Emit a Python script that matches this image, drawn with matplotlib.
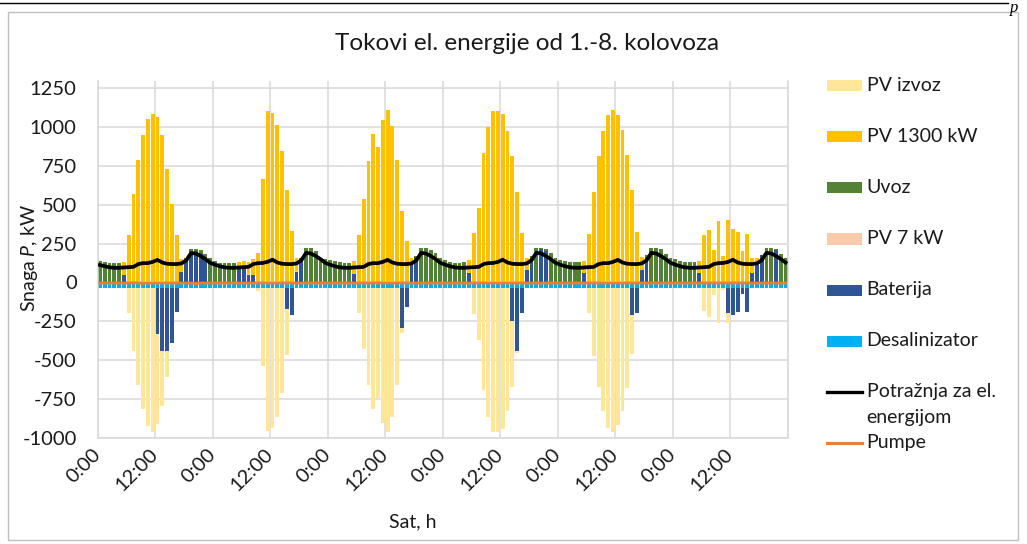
import numpy as np
import matplotlib
matplotlib.use("Agg")
import matplotlib.pyplot as plt
from matplotlib.patches import Rectangle
from matplotlib.lines import Line2D

plt.rcParams["font.family"] = ["Lato", "DejaVu Sans"]
plt.rcParams["mathtext.fontset"] = "custom"
plt.rcParams["mathtext.rm"] = "Lato"
plt.rcParams["mathtext.it"] = "Lato:italic"

# ---- hourly power flows, 1.-6. day of the period (kW) ----
pv1300_kw = [
    0, 0, 0, 0, 0, 83, 303, 564, 786, 945, 1047, 1079, 1058, 945, 727, 502, 303, 86, 0, 0, 0, 0, 0, 0,
    0, 0, 0, 0, 0, 42, 50, 78, 105, 185, 662, 1095, 1085, 1007, 838, 590, 326, 86, 0, 0, 0, 0, 0, 0,
    0, 0, 0, 0, 0, 86, 303, 534, 780, 951, 870, 1041, 1100, 1000, 784, 455, 267, 39, 0, 0, 0, 0, 0, 0,
    0, 0, 0, 0, 0, 85, 314, 474, 827, 994, 1096, 1096, 1079, 966, 806, 581, 314, 75, 0, 0, 0, 0, 0, 0,
    0, 0, 0, 0, 0, 79, 310, 577, 808, 968, 1073, 1100, 1068, 977, 818, 592, 320, 79, 0, 0, 0, 0, 0, 0,
    0, 0, 0, 0, 0, 79, 303, 338, 207, 395, 171, 402, 340, 320, 203, 310, 96, 50, 0, 0, 0, 0, 0, 0,
]

uvoz_kw = [
    139, 132, 124, 124, 124, 0, 0, 0, 0, 0, 0, 0, 0, 0, 0, 0, 0, 0, 5, 12, 12, 16, 20, 160,
    139, 128, 124, 124, 124, 0, 0, 0, 0, 0, 0, 0, 0, 0, 0, 0, 0, 0, 10, 220, 220, 199, 160, 150,
    143, 135, 130, 126, 126, 0, 0, 0, 0, 0, 0, 0, 0, 0, 0, 0, 0, 0, 6, 220, 224, 207, 188, 160,
    143, 132, 128, 124, 132, 0, 0, 0, 0, 0, 0, 0, 0, 0, 0, 0, 0, 0, 11, 224, 10, 13, 188, 160,
    143, 137, 130, 130, 130, 0, 0, 0, 0, 0, 0, 0, 0, 0, 0, 0, 0, 0, 10, 224, 220, 214, 186, 160,
    150, 137, 130, 130, 130, 0, 0, 0, 0, 0, 0, 0, 0, 0, 0, 0, 0, 0, 0, 224, 224, 4, 185, 160,
]

pv7_kw = [
    0, 0, 0, 0, 0, 0, 1, 2, 4, 5, 6, 7, 7, 6, 5, 3, 2, 1, 0, 0, 0, 0, 0, 0,
    0, 0, 0, 0, 0, 0, 1, 1, 2, 3, 5, 7, 7, 6, 5, 3, 2, 1, 0, 0, 0, 0, 0, 0,
    0, 0, 0, 0, 0, 0, 1, 2, 4, 5, 5, 6, 7, 6, 5, 3, 2, 0, 0, 0, 0, 0, 0, 0,
    0, 0, 0, 0, 0, 0, 1, 2, 4, 6, 7, 7, 7, 6, 5, 3, 2, 1, 0, 0, 0, 0, 0, 0,
    0, 0, 0, 0, 0, 0, 1, 2, 4, 6, 7, 7, 7, 6, 5, 3, 2, 1, 0, 0, 0, 0, 0, 0,
    0, 0, 0, 0, 0, 0, 1, 2, 1, 2, 1, 2, 2, 2, 1, 2, 1, 0, 0, 0, 0, 0, 0, 0,
]

# battery: positive = discharge, negative = charging
baterija_kw = [
    0, 0, 0, 0, 0, 49, 0, 0, 0, 0, 0, 0, -300, -405, -405, -355, -158, 64, 150, 200, 205, 190, 165, 0,
    0, 0, 0, 0, 0, 90, 85, 50, 45, 0, 0, 0, 0, 0, 0, -137, -175, 70, 150, 0, 0, 0, 0, 0,
    0, 0, 0, 0, 0, 53, 0, 0, 0, 0, 0, 0, 0, 0, 0, -260, -122, 117, 165, 0, 0, 0, 0, 0,
    0, 0, 0, 0, 0, 58, 0, 0, 0, 0, 0, 0, 0, 0, -213, -406, -164, 81, 160, 0, 214, 200, 0, 0,
    0, 0, 0, 0, 0, 60, 0, 0, 0, 0, 0, 0, 0, 0, 0, -175, -164, 81, 165, 0, 0, 0, 0, 0,
    0, 0, 0, 0, 0, 60, 0, 0, 0, 0, 0, -160, -175, -158, -42, -158, 60, 110, 175, 0, 0, 210, 0, 0,
]

desalinizator_kw = [
    -35, -35, -35, -35, -35, -35, -35, -35, -35, -35, -35, -35, -35, -35, -35, -35, -35, -35, -35, -35, -35, -35, -35, -35,
    -35, -35, -35, -35, -35, -35, -35, -35, -35, -35, -35, -35, -35, -35, -35, -35, -35, -35, -35, -35, -35, -35, -35, -35,
    -35, -35, -35, -35, -35, -35, -35, -35, -35, -35, -35, -35, -35, -35, -35, -35, -35, -35, -35, -35, -35, -35, -35, -35,
    -35, -35, -35, -35, -35, -35, -35, -35, -35, -35, -35, -35, -35, -35, -35, -35, -35, -35, -35, -35, -35, -35, -35, -35,
    -35, -35, -35, -35, -35, -35, -35, -35, -35, -35, -35, -35, -35, -35, -35, -35, -35, -35, -35, -35, -35, -35, -35, -35,
    -35, -35, -35, -35, -35, -35, -35, -35, -35, -35, -35, -35, -35, -35, -35, -35, -35, -35, -35, -35, -35, -35, -35, -35,
]

pv_izvoz_kw = [
    0, 0, 0, 0, 0, 0, -161, -408, -626, -782, -888, -928, -576, -358, -167, 0, 0, 0, 0, 0, 0, 0, 0, 0,
    0, 0, 0, 0, 0, 0, 0, 0, 0, -23, -504, -925, -903, -833, -679, -296, 0, 0, 0, 0, 0, 0, 0, 0,
    0, 0, 0, 0, 0, 0, -160, -396, -626, -783, -712, -873, -926, -834, -626, -33, 0, 0, 0, 0, 0, 0, 0, 0,
    0, 0, 0, 0, 0, 0, -166, -333, -658, -834, -931, -931, -906, -796, -427, -12, 0, 0, 0, 0, 0, 0, 0, 0,
    0, 0, 0, 0, 0, 0, -160, -437, -640, -796, -903, -929, -882, -796, -647, -254, 0, 0, 0, 0, 0, 0, 0, 0,
    0, 0, 0, 0, 0, 0, -151, -187, -44, -224, -15, -66, 0, 0, 0, 0, 0, 0, 0, 0, 0, 0, 0, 0,
]

potraznja_kw = [
    112, 104, 97, 94, 94, 96, 98, 100, 118, 124, 124, 132, 145, 128, 120, 118, 118, 122, 142, 188, 186, 170, 150, 126,
    114, 104, 97, 94, 94, 96, 98, 100, 118, 124, 125, 133, 146, 128, 120, 118, 118, 122, 142, 190, 186, 170, 150, 126,
    114, 104, 97, 94, 94, 96, 98, 100, 118, 124, 124, 132, 145, 128, 120, 118, 118, 122, 142, 190, 186, 170, 150, 126,
    114, 104, 97, 94, 94, 96, 98, 100, 118, 124, 125, 132, 146, 128, 120, 118, 118, 122, 142, 190, 187, 170, 150, 126,
    114, 104, 97, 94, 94, 96, 98, 100, 118, 124, 124, 132, 145, 128, 120, 118, 118, 122, 142, 190, 186, 170, 150, 126,
    114, 104, 97, 94, 94, 96, 98, 100, 118, 124, 125, 132, 146, 128, 120, 118, 118, 122, 142, 190, 186, 170, 150, 128,
]

pumpe_kw = [
    -4, -4, -4, -4, -4, -4, -4, -4, -4, -7, -4, -4, -4, -4, -4, -4, -4, -4, -4, -4, -7, -4, -4, -4,
    -4, -4, -4, -4, -4, -4, -4, -4, -4, -4, -4, -4, -4, -4, -4, -4, -4, -4, -4, -4, -4, -4, -4, -4,
    -4, -4, -4, -4, -4, -4, -4, -4, -4, -4, -4, -4, -4, -4, -4, -4, -4, -4, -4, -4, -4, -4, -4, -4,
    -4, -4, -4, -4, -4, -4, -4, -4, -4, -4, -4, -4, -4, -4, -4, -4, -4, -4, -4, -4, -4, -4, -4, -4,
    -4, -4, -4, -4, -4, -4, -4, -4, -4, -4, -4, -4, -4, -4, -4, -4, -4, -4, -4, -4, -4, -4, -4, -4,
    -4, -4, -4, -4, -4, -4, -4, -4, -4, -4, -4, -4, -4, -4, -4, -4, -4, -4, -4, -4, -4, -4, -4, -4,
]

x_tick_hours = [0, 12, 24, 36, 48, 60, 72, 84, 96, 108, 120, 132, 144]
x_tick_labels = ["0:00", "12:00", "0:00", "12:00", "0:00", "12:00", "0:00", "12:00",
                 "0:00", "12:00", "0:00", "12:00", ""]
y_ticks = [-1000, -750, -500, -250, 0, 250, 500, 750, 1000, 1250]
y_tick_labels = ["-1000", "-750", "-500", "-250", "0", "250", "500", "750", "1000", "1250"]

colors = {
    "PV izvoz": "#FFE699",
    "PV 1300 kW": "#FFC000",
    "Uvoz": "#548235",
    "PV 7 kW": "#F8CBAD",
    "Baterija": "#2F5597",
    "Desalinizator": "#00B0F0",
    "demand": "#000000",
    "Pumpe": "#ED7D31",
}
TXT = "#1a1a1a"
GRID = "#D9D9D9"
FS = 14

W, H = 1027, 544
fig = plt.figure(figsize=(W / 100, H / 100), dpi=100)


def fx(px):
    return px / W


def fy(py):
    return 1 - py / H


ax = fig.add_axes([fx(97.5), fy(437.7), fx(788) - fx(97.5), fy(80.5) - fy(437.7)])

x = np.arange(len(pv1300_kw)) + 0.5
bw = 0.8

bat = np.array(baterija_kw, dtype=float)
bat_pos = np.clip(bat, 0, None)
bat_neg = np.clip(bat, None, 0)

# positive stack (from zero upwards)
base = np.zeros_like(x)
for vals, key in [(bat_pos, "Baterija"), (np.array(pv7_kw, float), "PV 7 kW"),
                  (np.array(uvoz_kw, float), "Uvoz"), (np.array(pv1300_kw, float), "PV 1300 kW")]:
    ax.bar(x, vals, bottom=base, width=bw, color=colors[key], linewidth=0, zorder=2)
    base = base + vals

# negative stack (from zero downwards)
base = np.zeros_like(x)
for vals, key in [(np.array(desalinizator_kw, float), "Desalinizator"), (bat_neg, "Baterija"),
                  (np.array(pv_izvoz_kw, float), "PV izvoz")]:
    ax.bar(x, vals, bottom=base, width=bw, color=colors[key], linewidth=0, zorder=2)
    base = base + vals

ax.plot(x, potraznja_kw, color=colors["demand"], lw=2.7, solid_joinstyle="round", zorder=4)
ax.plot(x, pumpe_kw, color=colors["Pumpe"], lw=2.0, zorder=5)

ax.set_xlim(0, 144)
ax.set_ylim(-1000, 1300)
ax.set_yticks(y_ticks)
ax.set_yticklabels(y_tick_labels)
ax.set_xticks(x_tick_hours)
ax.set_xticklabels(x_tick_labels, rotation=45, ha="right", va="center", rotation_mode="anchor")
ax.tick_params(axis="both", length=0, labelsize=14.5, colors=TXT)
ax.tick_params(axis="y", pad=15)
ax.tick_params(axis="x", pad=10)
ax.grid(True, color=GRID, lw=1.1, zorder=0)
ax.set_axisbelow(True)
ax.spines["top"].set_visible(False)
for side in ["left", "right", "bottom"]:
    ax.spines[side].set_color(GRID)
    ax.spines[side].set_linewidth(1.1)

fig.text(fx(29), fy(258), r"Snaga $P$, kW", fontsize=FS, color=TXT, rotation=90,
         ha="center", va="center")
fig.text(fx(413), fy(522), "Sat, h", fontsize=FS, color=TXT, ha="center", va="center")
fig.text(fx(527), fy(43), "Tokovi el. energije od 1.-8. kolovoza", fontsize=17.5, color=TXT,
         ha="center", va="center")

# legend
leg_x0, leg_w, leg_h = 826.7, 35, 11
bar_rows = [("PV izvoz", 85.7), ("PV 1300 kW", 136.7), ("Uvoz", 187.7), ("PV 7 kW", 239),
            ("Baterija", 290), ("Desalinizator", 341)]
for name, yc in bar_rows:
    fig.add_artist(Rectangle((fx(leg_x0), fy(yc + leg_h / 2)), fx(leg_w), leg_h / H,
                             transform=fig.transFigure, color=colors[name], lw=0))
    fig.text(fx(866.7), fy(yc), name, fontsize=FS, color=TXT, ha="left", va="center")

fig.add_artist(Line2D([fx(leg_x0), fx(leg_x0 + leg_w)], [fy(392), fy(392)],
                      transform=fig.transFigure, color=colors["demand"], lw=2.4))
fig.text(fx(866.7), fy(392), "Potražnja za el.", fontsize=FS, color=TXT, ha="left", va="center")
fig.text(fx(866.7), fy(418), "energijom", fontsize=FS, color=TXT, ha="left", va="center")
fig.add_artist(Line2D([fx(leg_x0), fx(leg_x0 + leg_w)], [fy(442.7), fy(442.7)],
                      transform=fig.transFigure, color=colors["Pumpe"], lw=2.2))
fig.text(fx(866.7), fy(442.7), "Pumpe", fontsize=FS, color=TXT, ha="left", va="center")

# chart frame and page rule
fig.add_artist(Rectangle((fx(8), fy(540)), fx(1018) - fx(8), (540 - 12) / H,
                         transform=fig.transFigure, fill=False, edgecolor="#BFBFBF", lw=1))
fig.add_artist(Line2D([0, fx(1008)], [fy(3), fy(3)], transform=fig.transFigure,
                      color="black", lw=1))
fig.text(fx(1010), fy(8), "p", fontsize=12, style="italic", color="black", ha="left", va="center",
         family=["Liberation Serif", "DejaVu Serif"])

fig.savefig("out.png", dpi=100)
